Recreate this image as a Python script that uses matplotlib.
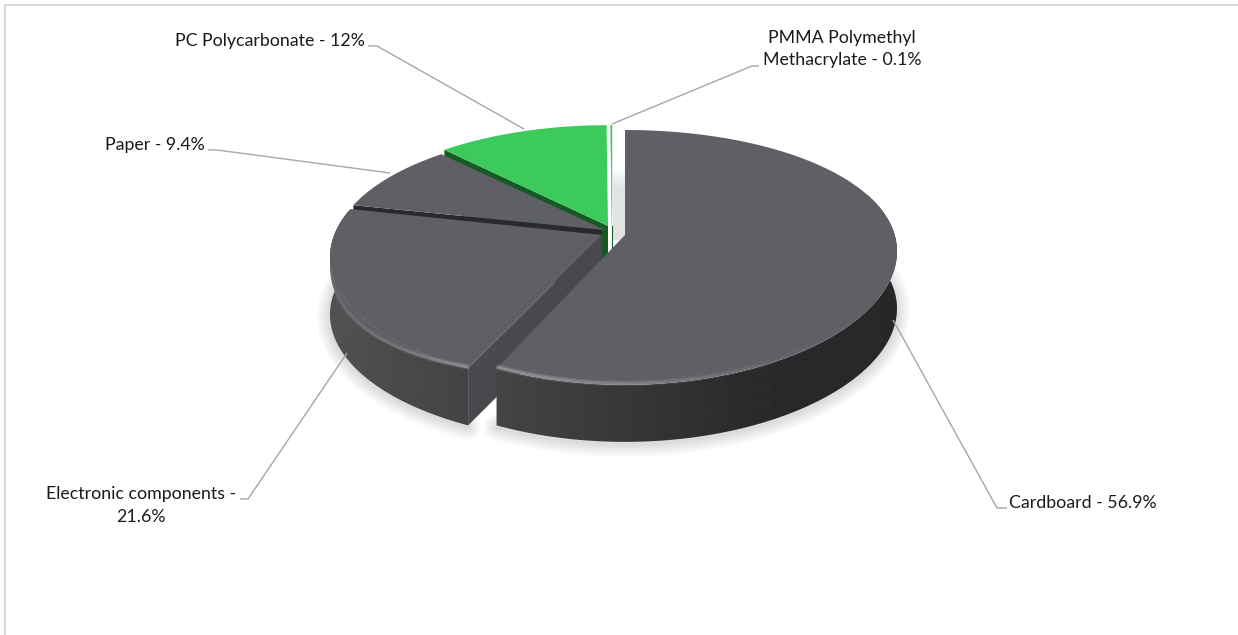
import numpy as np
import matplotlib
matplotlib.use('Agg')
import matplotlib.pyplot as plt
from matplotlib.patches import Polygon
from matplotlib.collections import LineCollection

# Chart data
materials = ['Cardboard', 'Electronic components', 'Paper', 'PC Polycarbonate', 'PMMA Polymethyl Methacrylate']
shares = [56.9, 21.6, 9.4, 12, 0.1]
label_texts = ['Cardboard - 56.9%', 'Electronic components -\n21.6%', 'Paper - 9.4%',
               'PC Polycarbonate - 12%', 'PMMA Polymethyl\nMethacrylate - 0.1%']

# Slice apex in pixels (each slice is exploded a bit differently), vertical squash, sideways perspective
apex = {'Cardboard': (625, 235, 1.0, 0.13), 'Electronic components': (602, 235, 1.0, 0.176),
        'Paper': (605, 230, 0.955, 0.176), 'PC Polycarbonate': (608, 226, 0.96, 0.176),
        'PMMA Polymethyl Methacrylate': (612, 226, 0.96, 0.176)}
HALF_WIDTH, RY, PERSP, DEPTH = 272, 123.5, 0.176, 57

TOP_COLOR = '#5f6065'
GREEN = '#3ccb5a'
DARK_GREEN = '#155a24'
BAND = '#2a2a2d'
CUT = '#49494d'

plt.rcParams['font.family'] = ['Lato', 'DejaVu Sans']
fig = plt.figure(figsize=(12.38, 6.35), dpi=100)
ax = fig.add_axes([0, 0, 1, 1])
ax.set_xlim(0, 1238)
ax.set_ylim(635, 0)
ax.axis('off')

# Work out the start and end angle of each slice, clockwise from 12 o'clock
cum = np.cumsum([0] + shares)
total = cum[-1]
spans = {m: (cum[i] / total * 360, cum[i + 1] / total * 360) for i, m in enumerate(materials)}


def project(name, theta):
    x0, y0, squash, kx = apex[name]
    t = np.radians(theta)
    u, v = np.sin(t), np.cos(t)
    rx = HALF_WIDTH * np.sqrt(1 - kx ** 2)
    return x0 + rx * u / (1 + kx * v), y0 - RY * squash * v / (1 + PERSP * v)


def arc(name, a0=None, a1=None, n=120):
    s = spans[name]
    a0 = s[0] if a0 is None else a0
    a1 = s[1] if a1 is None else a1
    return np.column_stack(project(name, np.linspace(a0, a1, n)))


def wedge(name):
    return np.vstack([apex[name][:2], arc(name)])


def cut_wall(name, theta):
    # straight wall running from the apex out to the rim at angle theta
    tip = arc(name, theta, theta, 1)[0]
    x0, y0 = apex[name][:2]
    return [[x0, y0], tip, tip + [0, DEPTH], [x0, y0 + DEPTH]]


def rim(name, a0, a1, xs, shades, z):
    # outer wall, clipped gradient so the shade changes from left to right
    pts = arc(name, a0, a1, 200)
    outline = Polygon(np.vstack([pts, pts[::-1] + [0, DEPTH]]), closed=True, fc='none', ec='none',
                      transform=ax.transData)
    ax.add_patch(outline)
    col = np.linspace(300, 920, 620)
    im = ax.imshow(np.interp(col, xs, shades)[None, :], extent=(300, 920, 470, 130), cmap='gray',
                   vmin=0, vmax=1, aspect='auto', interpolation='bilinear', zorder=z)
    im.set_clip_path(outline)


def soft_shadow(pts, dy, z):
    for d in range(12, 0, -1):
        ax.add_patch(Polygon(pts + [0, dy], closed=True, fc='none', ec='black', lw=d * 1.6,
                             alpha=0.012, joinstyle='round', zorder=z))


def bevel(pts, xs, alphas, z):
    pts = pts + [0, -1.5]
    segs = np.stack([pts[:-1], pts[1:]], axis=1)
    al = np.interp(pts[:-1, 0], xs, alphas)
    for lw, f in [(4.0, 0.35), (2.0, 0.6)]:
        cols = np.ones((len(al), 4))
        cols[:, 3] = al * f
        ax.add_collection(LineCollection(segs, colors=cols, linewidths=lw, zorder=z))


# Shadow under the pie
soft_shadow(arc('Cardboard', 60, None) + [0, DEPTH], 2, 1)
soft_shadow(arc('Electronic components', None, 280) + [0, DEPTH], 2, 1)

# Chart frame, only top and left edges are in the crop
ax.plot([4.5, 1238], [4.5, 4.5], color='#d9d9d9', lw=1.5, zorder=1)
ax.plot([4.5, 4.5], [4.5, 635], color='#d9d9d9', lw=1.5, zorder=1)

# Shadow that falls in the gap next to the cardboard slice
for i, g in enumerate(np.linspace(0.98, 0.89, 10)):
    ax.fill_between([613, 625], 170 + i * 2, 240, color=(g, g, g), lw=0, zorder=2)

# PMMA sliver
pm = 'PMMA Polymethyl Methacrylate'
ax.add_patch(Polygon(wedge(pm), closed=True, fc=GREEN, ec=GREEN, lw=0.3, zorder=3))
ax.plot([apex[pm][0]] * 2, [apex[pm][1], apex[pm][1] + 24], color=DARK_GREEN, lw=0.8, zorder=3)

# Green slice: dark wall first, then the top
pc = 'PC Polycarbonate'
el = 'Electronic components'
ax.add_patch(Polygon(cut_wall(pc, spans[pc][0]), closed=True, fc=DARK_GREEN, ec='none', zorder=3))
ax.fill_between([apex[el][0], apex[pc][0]], apex[pc][1], apex[pc][1] + DEPTH, color=DARK_GREEN, lw=0, zorder=4.5)
ax.add_patch(Polygon(wedge(pc), closed=True, fc=GREEN, ec='none', zorder=5))

# Paper slice with its dark wall that shows as a band above the electronic slice
pa = 'Paper'
ax.add_patch(Polygon(cut_wall(pa, spans[pa][0]), closed=True, fc=BAND, ec='none', zorder=4))
ax.add_patch(Polygon(wedge(pa), closed=True, fc=TOP_COLOR, ec='none', zorder=5))

# Electronic components slice
rim(el, spans[el][0], 282, [330, 400, 470], [0.32, 0.29, 0.265], 6)
ax.add_patch(Polygon(cut_wall(el, spans[el][0]), closed=True, fc=CUT, ec='none', zorder=6.5))
ax.add_patch(Polygon(wedge(el), closed=True, fc=TOP_COLOR, ec='none', zorder=7))
# rounded lip: the front left of the top surface sags a bit over the wall
lip_angles = np.linspace(spans[el][0], 282, 120)
lip_edge = arc(el, spans[el][0], 282, 120)
lip_low = lip_edge + np.column_stack([np.zeros(120), 11 * np.sin(np.pi * (lip_angles - lip_angles[0]) / 77)])
ax.add_patch(Polygon(np.vstack([lip_edge, lip_low[::-1]]), closed=True, fc=TOP_COLOR, ec='none', zorder=7))
bevel(lip_low[:80], [330, 400, 467], [0.08, 0.16, 0.30], 8)

# Cardboard slice
cb = 'Cardboard'
rim(cb, 70, spans[cb][1], [497, 620, 760, 900], [0.27, 0.22, 0.165, 0.155], 9)
ax.add_patch(Polygon(wedge(cb), closed=True, fc=TOP_COLOR, ec='none', zorder=10))
bevel(arc(cb, 115, None, 200), [497, 650, 780, 880], [0.34, 0.22, 0.05, 0.0], 11)

# Leader lines, from the text to the slice
leaders = [([1007, 997, 893], [508, 508, 320]),
           ([240, 248, 347], [499, 499, 353]),
           ([208, 217, 390], [150, 150, 173]),
           ([368, 377, 524], [46, 46, 129]),
           ([759, 752, 612], [66, 66, 124])]
for xs, ys in leaders:
    ax.plot(xs, ys, color='#a6a6a6', lw=1.0, zorder=12, solid_capstyle='butt')

# Data labels
label_pos = [(1083, 503), (141, 505.5), (155, 145), (270, 41), (842, 49)]
for txt, (x, y) in zip(label_texts, label_pos):
    ax.text(x, y, txt, ha='center', va='center', fontsize=12.8, color='#1a1a1a',
            linespacing=1.5, zorder=13)

ax.set_xlim(0, 1238)
ax.set_ylim(635, 0)
fig.savefig('out.png', dpi=100)
